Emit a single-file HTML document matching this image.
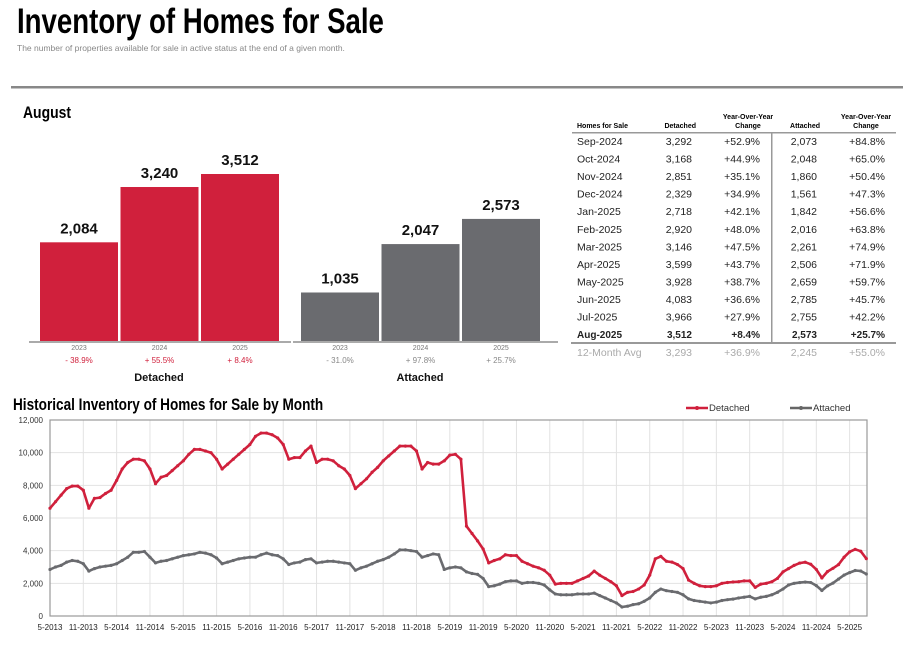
<!DOCTYPE html>
<html><head><meta charset="utf-8">
<style>
html,body{margin:0;padding:0;background:#fff;width:911px;height:647px;overflow:hidden}
svg{display:block;font-family:"Liberation Sans",sans-serif}
</style></head>
<body>
<svg id="root" width="911" height="647" viewBox="0 0 911 647">
  <text x="17" y="33" font-size="35" font-weight="bold" transform="translate(17 0) scale(0.79 1) translate(-17 0)">Inventory of Homes for Sale</text>
  <text x="17" y="51" font-size="8.5" fill="#888">The number of properties available for sale in active status at the end of a given month.</text>
  <rect x="11" y="86" width="892" height="2.5" fill="#888"/>
  <text x="23" y="118" font-size="17" font-weight="bold" transform="translate(23 0) scale(0.82 1) translate(-23 0)">August</text>
  <g id="bars"></g>
  <g id="table"></g>
  <text x="13" y="410" font-size="17" font-weight="bold" transform="translate(13 0) scale(0.8 1) translate(-13 0)">Historical Inventory of Homes for Sale by Month</text>
  <g>
    <line x1="686" y1="408" x2="708" y2="408" stroke="#d0203c" stroke-width="2.5"/><circle cx="697" cy="408" r="2" fill="#d0203c"/>
    <text x="709" y="411" font-size="9.5" fill="#333">Detached</text>
  </g>
  <g>
    <line x1="790" y1="408" x2="812" y2="408" stroke="#666" stroke-width="2.5"/><circle cx="801" cy="408" r="2" fill="#666"/>
    <text x="813" y="411" font-size="9.5" fill="#333">Attached</text>
  </g>
  <g id="line"></g>
</svg>
<script>
const NS="http://www.w3.org/2000/svg";
function mk(tag,attrs,parent,txt){const e=document.createElementNS(NS,tag);for(const k in attrs)e.setAttribute(k,attrs[k]);if(txt!==undefined)e.textContent=txt;parent.appendChild(e);return e;}

/* ---------- Bar chart data ---------- */
const barYears=["2023","2024","2025"];
const detachedAug=[2084,3240,3512];
const attachedAug=[1035,2047,2573];
const detachedPct=["- 38.9%","+ 55.5%","+ 8.4%"];
const attachedPct=["- 31.0%","+ 97.8%","+ 25.7%"];

/* ---------- Table data ---------- */
const tableMonths=["Sep-2024","Oct-2024","Nov-2024","Dec-2024","Jan-2025","Feb-2025","Mar-2025","Apr-2025","May-2025","Jun-2025","Jul-2025","Aug-2025"];
const tableDetached=["3,292","3,168","2,851","2,329","2,718","2,920","3,146","3,599","3,928","4,083","3,966","3,512"];
const tableDetYoY=["+52.9%","+44.9%","+35.1%","+34.9%","+42.1%","+48.0%","+47.5%","+43.7%","+38.7%","+36.6%","+27.9%","+8.4%"];
const tableAttached=["2,073","2,048","1,860","1,561","1,842","2,016","2,261","2,506","2,659","2,785","2,755","2,573"];
const tableAttYoY=["+84.8%","+65.0%","+50.4%","+47.3%","+56.6%","+63.8%","+74.9%","+71.9%","+59.7%","+45.7%","+42.2%","+25.7%"];
const tableAvg=["12-Month Avg","3,293","+36.9%","2,245","+55.0%"];

/* ---------- Line chart data (monthly, 5-2013 .. 8-2025, thousands) ---------- */
const detachedHist=[
6.6,7.0,7.4,7.8,7.95,7.95,7.7,6.6,
7.2,7.25,7.5,7.7,8.3,9.0,9.4,9.6,9.6,9.5,9.0,8.1,
8.5,8.6,8.9,9.2,9.5,9.9,10.2,10.2,10.1,10.0,9.6,9.0,
9.3,9.6,9.9,10.2,10.5,11.0,11.2,11.2,11.1,10.9,10.5,9.6,
9.7,9.7,10.1,10.4,9.4,9.6,9.6,9.5,9.2,9.0,8.6,7.8,
8.1,8.4,8.8,9.1,9.5,9.8,10.1,10.4,10.4,10.4,10.1,9.0,
9.4,9.3,9.3,9.5,9.85,9.9,9.6,5.5,5.05,4.6,4.1,3.25,
3.4,3.5,3.75,3.7,3.7,3.35,3.2,3.05,2.95,2.8,2.5,1.95,
2.0,2.0,2.0,2.15,2.3,2.45,2.75,2.5,2.3,2.1,1.85,1.25,
1.45,1.5,1.65,1.9,2.5,3.5,3.65,3.35,3.3,3.15,2.9,2.2,
2.0,1.85,1.8,1.8,1.85,2.0,2.05,2.084,2.1,2.15,2.15,1.75,
1.95,2.0,2.1,2.3,2.7,2.9,3.1,3.24,3.292,3.168,2.851,2.329,
2.718,2.920,3.146,3.599,3.928,4.083,3.966,3.512];
const attachedHist=[
2.85,3.0,3.1,3.3,3.4,3.35,3.2,2.75,
2.9,3.0,3.05,3.1,3.2,3.4,3.6,3.9,3.9,3.95,3.6,3.25,
3.35,3.4,3.5,3.6,3.7,3.75,3.8,3.9,3.85,3.75,3.55,3.2,
3.3,3.4,3.5,3.55,3.6,3.6,3.75,3.85,3.75,3.7,3.5,3.15,
3.25,3.3,3.45,3.5,3.25,3.3,3.35,3.35,3.3,3.25,3.2,2.8,
2.95,3.05,3.2,3.35,3.45,3.6,3.8,4.05,4.05,4.0,3.95,3.6,
3.7,3.8,3.75,2.85,2.95,3.0,2.95,2.7,2.6,2.55,2.3,1.8,
1.85,1.95,2.1,2.15,2.15,2.0,2.05,2.05,2.0,1.9,1.6,1.35,
1.3,1.3,1.3,1.35,1.35,1.35,1.4,1.25,1.1,0.95,0.8,0.55,
0.6,0.7,0.75,0.9,1.1,1.45,1.65,1.55,1.5,1.45,1.3,1.05,
0.95,0.9,0.85,0.8,0.85,0.95,1.0,1.035,1.1,1.15,1.2,1.05,
1.15,1.2,1.3,1.45,1.65,1.9,2.0,2.047,2.073,2.048,1.860,1.561,
1.842,2.016,2.261,2.506,2.659,2.785,2.755,2.573];
const yTicks=[0,2000,4000,6000,8000,10000,12000];
const xTickLabels=["5-2013","11-2013","5-2014","11-2014","5-2015","11-2015","5-2016","11-2016","5-2017","11-2017","5-2018","11-2018","5-2019","11-2019","5-2020","11-2020","5-2021","11-2021","5-2022","11-2022","5-2023","11-2023","5-2024","11-2024","5-2025"];

/* ---------- draw bars ---------- */
(function(){
  const g=document.getElementById('bars');
  const base=342, k=168/3512;
  const by=v=>base-v*k;
  const groups=[{vals:detachedAug,pct:detachedPct,x0:40,color:"#d0203c",pc:"#d0203c",name:"Detached",cx:159,key:"detached"},
                {vals:attachedAug,pct:attachedPct,x0:301,color:"#6a6b6f",pc:"#888",name:"Attached",cx:420,key:"attached"}];
  groups.forEach(gr=>{
    gr.vals.forEach((v,i)=>{
      const x=gr.x0+i*80.5, w=78;
      const r=mk('rect',{x:x,y:by(v),width:w,height:v*k,fill:gr.color},g);
      
      
      const t=mk('text',{x:x+w/2,y:by(v)-9,'text-anchor':'middle','font-size':15,'font-weight':'bold',fill:'#111'},g,v.toLocaleString('en-US'));
      
      
      const y=mk('text',{x:x+w/2,y:350,'text-anchor':'middle','font-size':7,fill:'#777'},g,barYears[i]);
      
      
      const p=mk('text',{x:x+w/2,y:363,'text-anchor':'middle','font-size':8,fill:gr.pc},g,gr.pct[i]);
      
      
    });
    const n=mk('text',{x:gr.cx,y:381,'text-anchor':'middle','font-size':11,'font-weight':'bold',fill:'#111'},g,gr.name);
    
    
  });
  const a=mk('rect',{x:29,y:341,width:262,height:2,fill:'#aaa'},g);
  
  
  const b=mk('rect',{x:293,y:341,width:265,height:2,fill:'#aaa'},g);
  
  
})();

/* ---------- draw table ---------- */
(function(){
  const g=document.getElementById('table');
  const hdr=[["Homes for Sale",577,'start'],["Detached",696,'end'],["Attached",820,'end']];
  hdr.forEach(h=>{const t=mk('text',{x:h[1],y:128,'text-anchor':h[2],'font-size':7,'font-weight':'bold'},g,h[0]);
    });
  [[748],[866]].forEach(c=>{
    const t1=mk('text',{x:c[0],y:119,'text-anchor':'middle','font-size':7,'font-weight':'bold'},g,'Year-Over-Year');
    
    const t2=mk('text',{x:c[0],y:128,'text-anchor':'middle','font-size':7,'font-weight':'bold'},g,'Change');
    
  });
  const l1=mk('rect',{x:572,y:132,width:324,height:1.5,fill:'#999'},g);
  
  const l2=mk('rect',{x:571,y:342,width:325,height:2,fill:'#999'},g);
  
  const l3=mk('rect',{x:771,y:133,width:1.5,height:210,fill:'#999'},g);
  
  tableMonths.forEach((m,i)=>{
    const y=145+i*17.55, bold=i===tableMonths.length-1;
    const cols=[[m,577,'start'],[tableDetached[i],692,'end'],[tableDetYoY[i],760,'end'],[tableAttached[i],817,'end'],[tableAttYoY[i],885,'end']];
    cols.forEach(c=>{const t=mk('text',{x:c[1],y:y,'text-anchor':c[2],'font-size':bold?10:10.5,'font-weight':bold?'bold':'normal',fill:'#222'},g,c[0]);
      });
  });
  const xs=[[577,'start'],[692,'end'],[760,'end'],[817,'end'],[885,'end']];
  tableAvg.forEach((v,i)=>{const t=mk('text',{x:xs[i][0],y:356,'text-anchor':xs[i][1],'font-size':10.5,fill:'#aaa'},g,v);
    });
})();

/* ---------- draw line chart ---------- */
(function(){
  const g=document.getElementById('line');
  const L=50,R=867,T=420,B=616;
  const step=5.553;
  const xs=i=>L+i*step;
  const ys=v=>B-v/12000*(B-T);
  yTicks.forEach(v=>{
    const gl=mk('line',{x1:L,x2:R,y1:ys(v),y2:ys(v),stroke:'#e2e2e2','stroke-width':1},g);
    
    const t=mk('text',{x:43,y:ys(v)+3,'text-anchor':'end','font-size':8,fill:'#333'},g,v.toLocaleString('en-US'));
    
  });
  xTickLabels.forEach((lab,i)=>{
    const x=xs(i*6);
    const gl=mk('line',{x1:x,x2:x,y1:T,y2:B,stroke:'#e2e2e2','stroke-width':1},g);
    
    const t=mk('text',{x:x,y:630,'text-anchor':'middle','font-size':8,fill:'#222'},g,lab);
    
  });
  const fr=mk('rect',{x:L,y:T,width:R-L,height:B-T,fill:'none',stroke:'#999','stroke-width':1.2},g);
  
  [[attachedHist,'#6a6b6f','attached'],[detachedHist,'#d0203c','detached']].forEach(s=>{
    const pts=s[0].map((v,i)=>xs(i).toFixed(1)+','+ys(v*1000).toFixed(1)).join(' ');
    const p=mk('polyline',{points:pts,fill:'none',stroke:s[1],'stroke-width':2.6,'stroke-linejoin':'round'},g);
    
    
    s[0].forEach((v,i)=>{
      const c=mk('circle',{cx:xs(i),cy:ys(v*1000),r:1.6,fill:s[1]},g);
      
      
    });
  });
})();
</script>
</body></html>
